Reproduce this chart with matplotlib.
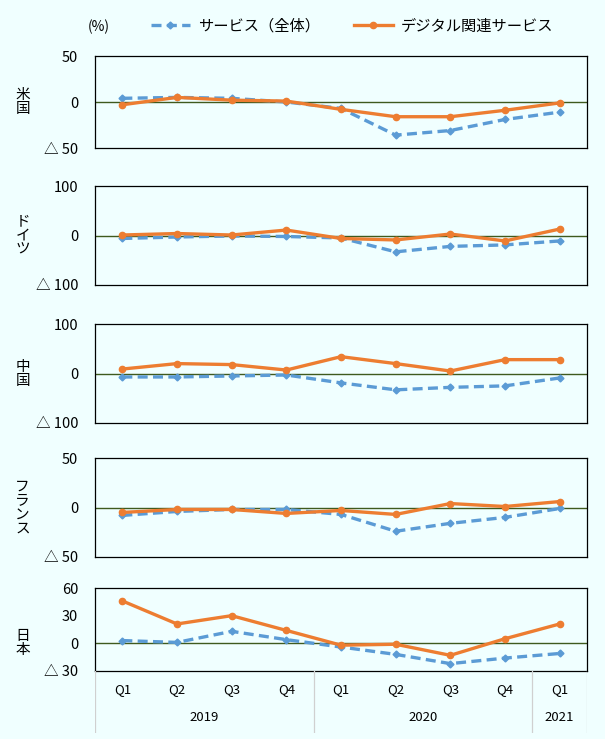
import matplotlib
matplotlib.use("Agg")
from matplotlib import pyplot as plt
from matplotlib.lines import Line2D

plt.rcParams['font.family'] = ['Noto Sans CJK JP', 'DejaVu Sans']

# データ（前年同期比、%）
quarters = ["Q1", "Q2", "Q3", "Q4", "Q1", "Q2", "Q3", "Q4", "Q1"]
years = ["2019", "2020", "2021"]
year_counts = [4, 4, 1]

countries = ["米国", "ドイツ", "中国", "フランス", "日本"]

service_all = [
    [4, 5, 4, 0, -7, -36, -31, -19, -11],
    [-6, -3, -1, -2, -5, -33, -22, -19, -11],
    [-7, -7, -5, -3, -19, -33, -28, -25, -9],
    [-8, -4, -2, -2, -7, -24, -16, -10, -1],
    [3, 1, 13, 4, -4, -12, -22, -16, -11],
]
digital = [
    [-3, 5, 2, 1, -8, -16, -16, -9, -1],
    [1, 4, 1, 11, -6, -9, 3, -11, 13],
    [9, 20, 18, 7, 34, 20, 5, 28, 28],
    [-5, -2, -2, -6, -3, -7, 4, 1, 6],
    [46, 21, 30, 14, -2, -1, -13, 5, 21],
]
yticks = [
    [50, 0, -50],
    [100, 0, -100],
    [100, 0, -100],
    [50, 0, -50],
    [60, 30, 0, -30],
]

blue = "#5B9BD5"
orange = "#ED7D31"
bg = "#F0FFFF"

fig = plt.figure(figsize=(6.05, 7.39), dpi=100, facecolor=bg)

# 各パネルの位置 (px: top, bottom)
panels = [(56, 148), (186, 285), (324, 423), (458, 557), (588, 671)]
W, H = 605, 739
left, right = 95, 587

x = list(range(len(quarters)))

def fmt(v):
    return "△ %d" % abs(v) if v < 0 else "%d" % v

axes = []
for i, (top, bot) in enumerate(panels):
    ax = fig.add_axes([left / W, 1 - bot / H, (right - left) / W, (bot - top) / H])
    ax.set_facecolor(bg)
    ax.axhline(0, color="#3F5A1E", lw=1, zorder=1)
    ax.plot(x, service_all[i], color=blue, lw=2.4, ls=(0, (3, 1.6)), marker="D", ms=3.5, zorder=2)
    ax.plot(x, digital[i], color=orange, lw=2.4, marker="o", ms=4.5, zorder=3)
    ax.set_xlim(-0.5, len(quarters) - 0.5)
    ax.set_ylim(min(yticks[i]), max(yticks[i]))
    ax.set_yticks(yticks[i])
    ax.set_yticklabels([fmt(v) for v in yticks[i]], fontsize=10.5)
    ax.tick_params(axis="y", length=0, pad=12)
    ax.set_xticks([])
    for s in ax.spines.values():
        s.set_linewidth(0.9)
        s.set_color("black")
    ax.text(-0.147, 0, "\n".join(countries[i]), transform=ax.get_yaxis_transform(),
            ha="center", va="center", fontsize=10.5, linespacing=1.0)
    axes.append(ax)

# カテゴリ軸（四半期・年）
cax = fig.add_axes([left / W, 1 - 733 / H, (right - left) / W, (733 - 671) / H])
cax.set_facecolor(bg)
cax.set_xlim(-0.5, len(quarters) - 0.5)
cax.set_ylim(0, 1)
cax.axis("off")
for xi, q in zip(x, quarters):
    cax.text(xi, 0.7, q, ha="center", va="center", fontsize=9.5)
start = 0
bounds = [-0.5]
for y, n in zip(years, year_counts):
    cax.text(start + (n - 1) / 2, 0.25, y, ha="center", va="center", fontsize=9.5)
    start += n
    bounds.append(start - 0.5)
for b in bounds:
    cax.plot([b, b], [0, 1], color="#D0D0D0", lw=0.9)

# 凡例
fig.text(88 / W, 1 - 27 / H, "(%)", ha="left", va="center", fontsize=10)
handles = [
    Line2D([], [], color=blue, lw=2.4, ls=(0, (3, 1.6)), marker="D", ms=3.5),
    Line2D([], [], color=orange, lw=2.4, marker="o", ms=4.5),
]
fig.legend(handles, ["サービス（全体）", "デジタル関連サービス"], loc="center",
           bbox_to_anchor=(352 / W, 1 - 26 / H), ncol=2, frameon=False,
           fontsize=11, handlelength=2.6, columnspacing=2.2, handletextpad=0.5)

fig.savefig("out.png", dpi=100, facecolor=bg)
